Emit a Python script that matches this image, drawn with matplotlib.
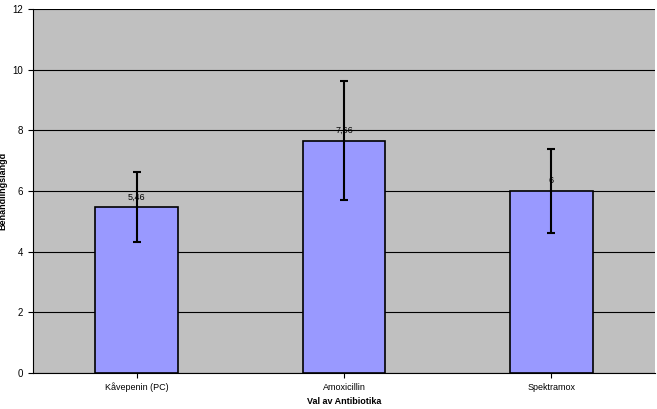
import matplotlib.pyplot as plt
import numpy as np

categories = ['Kåvepenin (PC)', 'Amoxicillin', 'Spektramox']
values = [5.46, 7.66, 6.0]
errors = [1.15, 1.95, 1.4]
labels = ['5,46', '7,66', '6']

fig = plt.figure(figsize=(6.57, 4.09), dpi=100)
ax = fig.add_axes([33/657, 1 - 373/409, 622/657, 364/409])
ax.set_facecolor('#C0C0C0')
x = np.arange(len(categories))
ax.bar(x, values, width=0.4, color='#9999FF', edgecolor='black', linewidth=1.2, zorder=3)
ax.errorbar(x, values, yerr=errors, fmt='none', ecolor='black', elinewidth=1.5,
            capsize=3, capthick=1.5, zorder=4)
for xi, v, lab in zip(x, values, labels):
    ax.text(xi, v + 0.2, lab, ha='center', va='bottom', fontsize=6.5, family='Liberation Sans', zorder=5)
ax.set_xlim(-0.5, 2.5)
ax.set_ylim(0, 12)
ax.set_yticks(range(0, 13, 2))
ax.yaxis.grid(True, color='black', linewidth=0.8, zorder=0)
ax.set_xticks(x)
ax.set_xticklabels(categories, fontsize=6.5, family='Liberation Sans')
ax.tick_params(axis='y', labelsize=7)
for t in ax.get_yticklabels():
    t.set_family('Liberation Sans')
ax.set_xlabel('Val av Antibiotika', fontsize=6.5, fontweight='bold', family='Liberation Sans', labelpad=3)
ax.set_ylabel('Behandlingslängd', fontsize=6.5, fontweight='bold', family='Liberation Sans')
ax.yaxis.set_label_coords(-0.042, 0.5)
for s in ['top', 'right']:
    ax.spines[s].set_visible(False)
fig.savefig('out.png', dpi=100)
